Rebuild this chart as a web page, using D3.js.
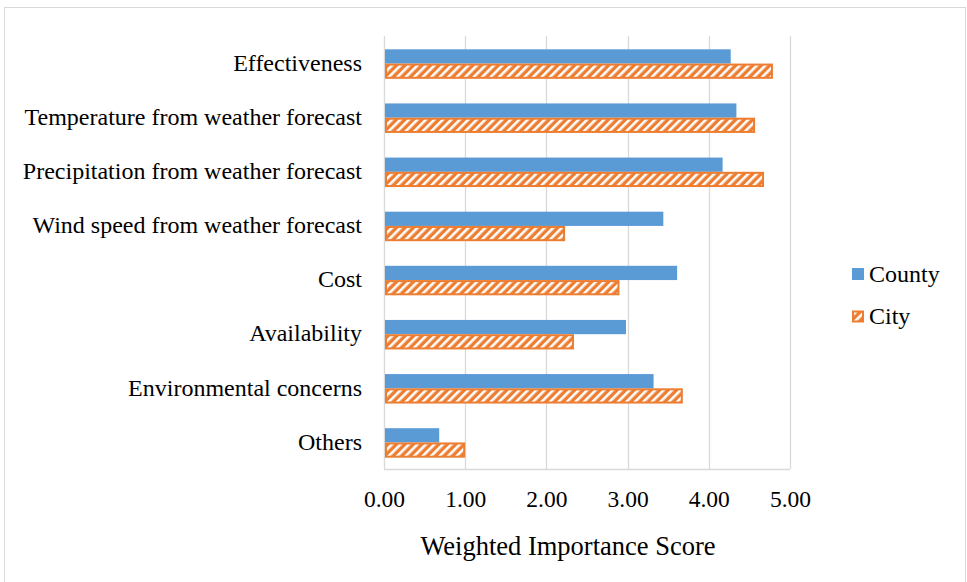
<!DOCTYPE html>
<html>
<head>
<meta charset="utf-8">
<script src="https://cdn.jsdelivr.net/npm/d3@7"></script>
<style>
  html, body { margin: 0; padding: 0; background: #ffffff; }
  svg { display: block; }
  text { font-family: "Liberation Serif", Tinos, "Times New Roman", Times, "DejaVu Serif", serif; fill: #000; }
</style>
</head>
<body>
<svg id="chart" width="967" height="582"></svg>
<script>
// Factors, top to bottom
const categories = [
  "Effectiveness",
  "Temperature from weather forecast",
  "Precipitation from weather forecast",
  "Wind speed from weather forecast",
  "Cost",
  "Availability",
  "Environmental concerns",
  "Others"
];
const seriesNames = ["County", "City"];
const countyValues = [4.27, 4.34, 4.17, 3.44, 3.61, 2.98, 3.32, 0.68];
const cityValues   = [4.79, 4.57, 4.68, 2.23, 2.90, 2.34, 3.68, 1.00];
const xTicks = [0, 1, 2, 3, 4, 5];
const xTitle = "Weighted Importance Score";

const blue = "#5B9BD5";
const orange = "#ED7D31";
const grid = "#d9d9d9";
const serif = '"Liberation Serif", Tinos, "Times New Roman", Times, "DejaVu Serif", serif';

const svg = d3.select("#chart");

// Hatched fill for the City series
const defs = svg.append("defs");
const pat = defs.append("pattern")
  .attr("id", "hatch")
  .attr("patternUnits", "userSpaceOnUse")
  .attr("width", 6).attr("height", 6)
  .attr("patternTransform", "rotate(45)");
pat.append("rect").attr("width", 6).attr("height", 6).attr("fill", orange);
pat.append("rect").attr("x", 0).attr("width", 2.6).attr("height", 6).attr("fill", "#ffffff");

// Outer chart frame
svg.append("rect")
  .attr("x", 4.5).attr("y", 7.5)
  .attr("width", 961).attr("height", 600)
  .attr("fill", "none").attr("stroke", grid).attr("stroke-width", 1);

const plotLeft = 384, plotRight = 790, plotTop = 36, plotBottom = 469;

const x = d3.scaleLinear().domain([0, 5]).range([plotLeft, plotRight]);
const y = d3.scaleBand().domain(categories).range([plotTop, plotBottom])
  .paddingInner(0.455).paddingOuter(0.2275);
const ySub = d3.scaleBand().domain(seriesNames).range([0, y.bandwidth()]);

// Vertical gridlines
svg.append("g").selectAll("line").data(xTicks).join("line")
  .attr("x1", d => Math.round(x(d)) + 0.5).attr("x2", d => Math.round(x(d)) + 0.5)
  .attr("y1", plotTop).attr("y2", plotBottom)
  .attr("stroke", grid).attr("stroke-width", 1.3);

// Baseline along the bottom of the plot
svg.append("line")
  .attr("x1", plotLeft).attr("x2", plotRight)
  .attr("y1", plotBottom + 0.5).attr("y2", plotBottom + 0.5)
  .attr("stroke", grid).attr("stroke-width", 1.3);

// Bottom axis tick labels
const xAxis = d3.axisBottom(x).tickValues(xTicks).tickFormat(d3.format(".2f")).tickSize(0).tickPadding(0);
const gx = svg.append("g").attr("transform", `translate(0,${plotBottom})`).call(xAxis)
  .attr("font-family", serif);
gx.select(".domain").remove();
gx.selectAll("text")
  .attr("dy", null).attr("y", 38)
  .style("font-family", serif)
  .style("font-size", "23.5px").attr("fill", "#000");

// Left axis category labels
const yAxis = d3.axisLeft(y).tickSize(0).tickPadding(0);
const gy = svg.append("g").attr("transform", `translate(${plotLeft - 22},0)`).call(yAxis)
  .attr("font-family", serif);
gy.select(".domain").remove();
gy.selectAll("text")
  .style("font-family", serif)
  .style("font-size", "24px").attr("fill", "#000");

// Bars
const rows = categories.map((c, i) => ({ cat: c, County: countyValues[i], City: cityValues[i] }));

const groups = svg.append("g").selectAll("g").data(rows).join("g")
  .attr("transform", d => `translate(0,${y(d.cat)})`);

groups.append("rect")
  .attr("x", x(0) + 1)
  .attr("y", ySub("County") + 1)
  .attr("width", d => x(d.County) - x(0) - 1)
  .attr("height", ySub.bandwidth() - 0.5)
  .attr("fill", blue);

groups.append("rect")
  .attr("x", x(0) + 2)
  .attr("y", ySub("City") + 1.5)
  .attr("width", d => x(d.City) - x(0) - 3)
  .attr("height", ySub.bandwidth() - 1.5)
  .attr("fill", "url(#hatch)")
  .attr("stroke", orange).attr("stroke-width", 2);

// Axis title
svg.append("text")
  .attr("x", 568).attr("y", 555)
  .attr("text-anchor", "middle")
  .style("font-family", serif)
  .style("font-size", "26.5px")
  .text(xTitle);

// Legend
const legend = svg.append("g").attr("transform", "translate(852,0)");
const legendRows = [
  { name: "County", y: 274, fill: blue, stroke: null },
  { name: "City", y: 316.5, fill: "url(#hatch)", stroke: orange }
];
legendRows.forEach(r => {
  legend.append("rect")
    .attr("x", r.stroke ? 1 : 0).attr("y", r.y - 6 + (r.stroke ? 1 : 0))
    .attr("width", r.stroke ? 10 : 12).attr("height", r.stroke ? 10 : 12)
    .attr("fill", r.fill)
    .attr("stroke", r.stroke).attr("stroke-width", r.stroke ? 2 : 0);
  legend.append("text")
    .attr("x", 17).attr("y", r.y + 7.5)
    .style("font-family", serif)
    .style("font-size", "24px")
    .text(r.name);
});
</script>
</body>
</html>
